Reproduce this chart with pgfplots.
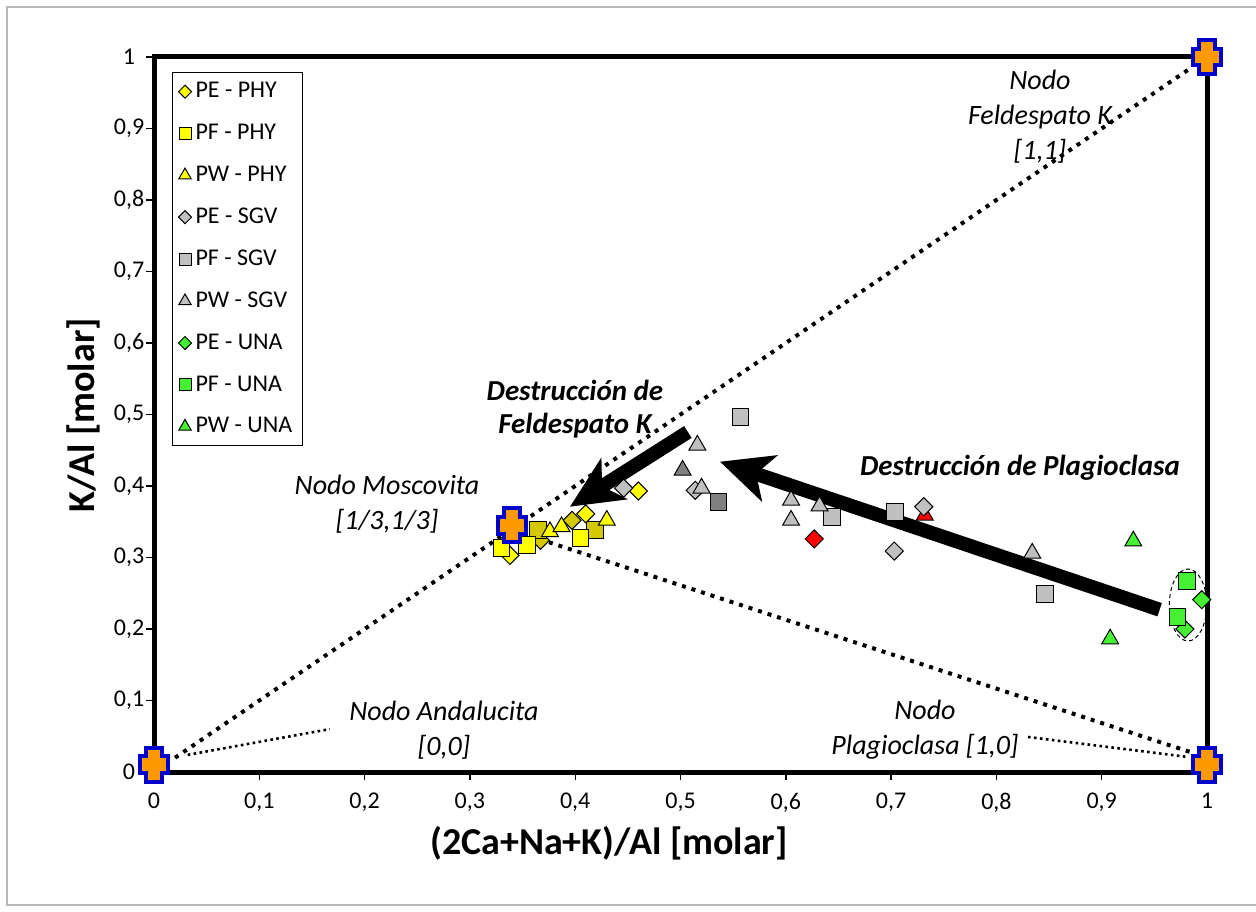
\documentclass[border=0pt]{standalone}
\usepackage{pgfplots}
\pgfplotsset{compat=1.18}
\usepackage{fontspec}
\setmainfont{Carlito}
\usetikzlibrary{arrows.meta}

\definecolor{yel}{RGB}{255,255,0}
\definecolor{dyel}{RGB}{212,200,0}
\definecolor{lgray}{RGB}{192,192,192}
\definecolor{dgray}{RGB}{128,128,128}
\definecolor{grn}{RGB}{70,240,50}
\definecolor{nodeorange}{RGB}{255,153,0}
\definecolor{nodeblue}{RGB}{0,0,204}

\pgfdeclareplotmark{nodecross}{%
  \pgfpathmoveto{\pgfqpoint{-4.2pt}{8.5pt}}%
  \pgfpathlineto{\pgfqpoint{4.2pt}{8.5pt}}%
  \pgfpathlineto{\pgfqpoint{4.2pt}{4.2pt}}%
  \pgfpathlineto{\pgfqpoint{7pt}{4.2pt}}%
  \pgfpathlineto{\pgfqpoint{7pt}{-4.2pt}}%
  \pgfpathlineto{\pgfqpoint{4.2pt}{-4.2pt}}%
  \pgfpathlineto{\pgfqpoint{4.2pt}{-8.5pt}}%
  \pgfpathlineto{\pgfqpoint{-4.2pt}{-8.5pt}}%
  \pgfpathlineto{\pgfqpoint{-4.2pt}{-4.2pt}}%
  \pgfpathlineto{\pgfqpoint{-7pt}{-4.2pt}}%
  \pgfpathlineto{\pgfqpoint{-7pt}{4.2pt}}%
  \pgfpathlineto{\pgfqpoint{-4.2pt}{4.2pt}}%
  \pgfpathclose
  \pgfusepathqfillstroke
}

\pgfplotsset{
  dia/.style={only marks, mark=square*, mark size=3.2pt,
    mark options={rotate=45, draw=black, line width=0.5pt, fill=#1},
    legend image post style={mark size=2.3pt}},
  sq/.style={only marks, mark=square*, mark size=4.2pt,
    mark options={draw=black, line width=0.5pt, fill=#1},
    legend image post style={mark size=3pt}},
  tri/.style={only marks, mark=triangle*, mark size=4.9pt,
    mark options={draw=black, line width=0.5pt, fill=#1},
    legend image post style={mark size=3.6pt}},
}

\begin{document}
\begin{tikzpicture}
\begin{axis}[
  width=526.5pt, height=357.5pt, scale only axis,
  xmin=0, xmax=1, ymin=0, ymax=1,
  clip=false,
  axis line style={line width=2.5pt},
  tick align=outside, major tick length=4pt,
  tick style={black, line width=0.7pt},
  xtick pos=bottom, ytick pos=left,
  xtick={0,0.1,0.2,0.3,0.4,0.5,0.6,0.7,0.8,0.9,1},
  ytick={0,0.1,0.2,0.3,0.4,0.5,0.6,0.7,0.8,0.9,1},
  xticklabels={0,{0,1},{0,2},{0,3},{0,4},{0,5},{0,6},{0,7},{0,8},{0,9},1},
  yticklabels={0,{0,1},{0,2},{0,3},{0,4},{0,5},{0,6},{0,7},{0,8},{0,9},1},
  tick label style={font=\fontsize{12}{14}\selectfont},
  xticklabel style={yshift=-3pt},
  yticklabel style={anchor=center, xshift=-8.5pt},
  xlabel={\bfseries (2Ca+Na+K)/Al [molar]},
  ylabel={\bfseries K/Al [molar]},
  label style={font=\fontsize{19}{22}\selectfont},
  xlabel style={at={(axis cs:0.432,-0.0993)}, anchor=center},
  ylabel style={at={(axis cs:-0.0674,0.499)}, anchor=center},
  legend style={at={(axis cs:0.0171,0.979)}, anchor=north west,
    draw=black, line width=0.5pt, font=\fontsize{12}{14}\selectfont,
    row sep=7.7pt, inner sep=3pt},
  legend cell align=left,
  legend image code/.code={\draw[#1] plot coordinates {(0pt,0pt)};},
]
% frame and bounding box helpers
\coordinate (bl) at (axis cs:-0.14625,-0.19441);
\coordinate (tr) at (axis cs:1.04653,1.07972);
\draw[gray!55, line width=0.6pt] (axis cs:1.06,1.0699) -| (axis cs:-0.1396,-0.186) -- (axis cs:1.06,-0.186);

% dotted reference lines
\draw[line width=2pt, dash pattern=on 2pt off 3pt] (axis cs:0.02,0.02) -- (axis cs:0.985,0.985);
\draw[line width=2pt, dash pattern=on 2pt off 3pt] (axis cs:0.357,0.330) -- (axis cs:0.984,0.028);
\draw[line width=1.3pt, dash pattern=on 1.3pt off 1.7pt] (axis cs:0.032,0.024) -- (axis cs:0.167,0.060);
\draw[line width=1.3pt, dash pattern=on 1.3pt off 1.7pt] (axis cs:0.830,0.049) -- (axis cs:0.982,0.021);

% unlabeled series
\addplot[dia=red, forget plot] coordinates {(0.627,0.326)};
\addplot[tri=red, forget plot] coordinates {(0.732,0.359)};
\addplot[tri=dgray, forget plot] coordinates {(0.502,0.422)};
\addplot[sq=dgray, forget plot] coordinates {(0.536,0.378)};
\addplot[dia=dyel, forget plot] coordinates {(0.367,0.324) (0.397,0.352)};
\addplot[sq=dyel, forget plot] coordinates {(0.365,0.338) (0.419,0.338)};

% legend series
\addplot[dia=yel] coordinates {(0.338,0.303) (0.410,0.361) (0.460,0.393)};
\addlegendentry{PE - PHY}
\addplot[sq=yel] coordinates {(0.330,0.313) (0.354,0.317) (0.405,0.327)};
\addlegendentry{PF - PHY}
\addplot[tri=yel] coordinates {(0.376,0.336) (0.387,0.343) (0.430,0.352)};
\addlegendentry{PW - PHY}
\addplot[dia=lgray] coordinates {(0.446,0.397) (0.514,0.394) (0.731,0.371) (0.703,0.309)};
\addlegendentry{PE - SGV}
\addplot[sq=lgray] coordinates {(0.557,0.497) (0.644,0.357) (0.704,0.364) (0.846,0.249)};
\addlegendentry{PF - SGV}
\addplot[tri=lgray] coordinates {(0.516,0.457) (0.520,0.397) (0.605,0.380) (0.605,0.352) (0.632,0.372) (0.834,0.306)};
\addlegendentry{PW - SGV}
\addplot[dia=grn] coordinates {(0.995,0.241) (0.979,0.200)};
\addlegendentry{PE - UNA}
\addplot[sq=grn] coordinates {(0.981,0.267) (0.972,0.217)};
\addlegendentry{PF - UNA}
\addplot[tri=grn] coordinates {(0.930,0.323) (0.908,0.186)};
\addlegendentry{PW - UNA}

% ellipse around UNA group
\draw[line width=0.5pt, dash pattern=on 2pt off 1.5pt] (axis cs:0.982,0.2336) ellipse [x radius=9.35pt, y radius=18pt];

% arrows
\draw[line width=7pt, -{Stealth[length=26pt, width=24pt, inset=7pt]}] (axis cs:0.955,0.227) -- (axis cs:0.5375,0.434);
\draw[line width=7pt, -{Stealth[length=26pt, width=24pt, inset=7pt]}] (axis cs:0.507,0.4755) -- (axis cs:0.395,0.371);

% node markers
\addplot[only marks, mark=nodecross, mark options={fill=nodeorange, draw=nodeblue, line width=2pt}, forget plot]
  coordinates {(0,0.01) (1,0.01) (1,1) (0.34,0.345)};

% annotations
\node[align=center, font=\fontsize{14}{17.5}\selectfont\itshape] at (axis cs:0.2213,0.3748) {Nodo Moscovita\\{[1/3,1/3]}};
\node[align=center, font=\fontsize{14.5}{16.5}\selectfont\bfseries\itshape] at (axis cs:0.3998,0.5077) {Destrucción de\\Feldespato K};
\node[align=center, font=\fontsize{14.5}{16.5}\selectfont\bfseries\itshape] at (axis cs:0.8224,0.4252) {Destrucción de Plagioclasa};
\node[align=center, font=\fontsize{14}{17.5}\selectfont\itshape] at (axis cs:0.8414,0.9161) {Nodo\\Feldespato K\\{[1,1]}};
\node[align=center, font=\fontsize{14}{17.5}\selectfont\itshape] at (axis cs:0.2754,0.0587) {Nodo Andalucita\\{[0,0]}};
\node[align=center, font=\fontsize{14}{17.5}\selectfont\itshape] at (axis cs:0.7322,0.0587) {Nodo\\Plagioclasa [1,0]};
\end{axis}
\pgfresetboundingbox
\useasboundingbox (bl) rectangle (tr);
\end{tikzpicture}
\end{document}
